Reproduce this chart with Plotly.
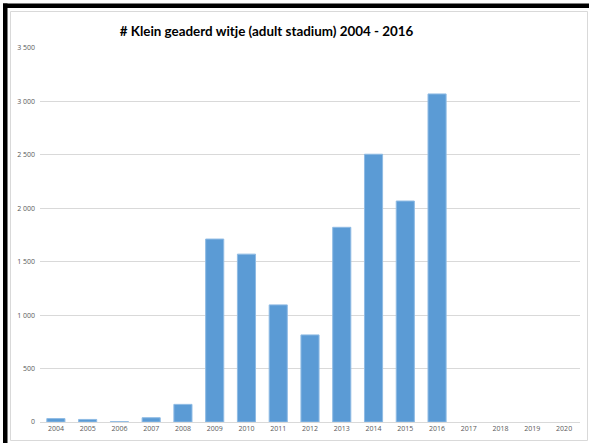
import plotly.graph_objects as go

years = [str(y) for y in range(2004, 2021)]
counts = [32, 24, 3, 40, 165, 1712, 1571, 1096, 815, 1822, 2506, 2068, 3070, None, None, None, None]
y_ticks = [0, 500, 1000, 1500, 2000, 2500, 3000, 3500]
title_text = "# Klein geaderd witje (adult stadium) 2004 - 2016"

W, H = 589, 443
L, R, T, B = 40, 9, 48, 21

fig = go.Figure(go.Bar(
    x=years, y=counts,
    marker=dict(color="#5b9bd5", line=dict(color="#8fbbe4", width=1)),
    hoverinfo="x+y",
))

def px_x(p):
    return (p - L) / (W - L - R)

def px_y(p):
    return 1 - (p - T) / (H - T - B)

shapes = [
    dict(type="rect", xref="paper", yref="paper",
         x0=px_x(10.5), x1=px_x(587.5), y0=px_y(440.5), y1=px_y(11.5),
         line=dict(color="#d9d9d9", width=1), fillcolor="rgba(0,0,0,0)", layer="below"),
    dict(type="rect", xref="paper", yref="paper",
         x0=px_x(3), x1=px_x(589), y0=px_y(8), y1=px_y(3.5),
         line=dict(width=0), fillcolor="black"),
    dict(type="rect", xref="paper", yref="paper",
         x0=px_x(3), x1=px_x(7.5), y0=px_y(443), y1=px_y(3.5),
         line=dict(width=0), fillcolor="black"),
]

fig.update_layout(
    width=W, height=H,
    margin=dict(l=L, r=R, t=T, b=B, pad=0),
    paper_bgcolor="white", plot_bgcolor="white",
    separators=", ",
    bargap=0.43,
    showlegend=False,
    title=dict(text=title_text, x=px_x(266.5), xref="paper", xanchor="center",
               y=1 - 31 / H, yref="container", yanchor="middle",
               font=dict(family="Lato", size=13.4, color="#000000", weight="bold")),
    xaxis=dict(type="category", showgrid=False, showline=True, linecolor="#d9d9d9",
               linewidth=1, ticks="", tickfont=dict(family="Open Sans", size=7, color="#595959"),
               fixedrange=True),
    yaxis=dict(range=[0, 3500], tickvals=y_ticks, tickformat=",d", showgrid=True,
               gridcolor="#d9d9d9", gridwidth=1, zeroline=False, showline=False,
               ticks="", ticklabelstandoff=4,
               tickfont=dict(family="Open Sans", size=7, color="#595959"),
               fixedrange=True),
    shapes=shapes,
)

fig.write_html("out.html", config={"displayModeBar": False},
               post_script="document.body.style.margin='0';document.body.style.overflow='hidden';")
